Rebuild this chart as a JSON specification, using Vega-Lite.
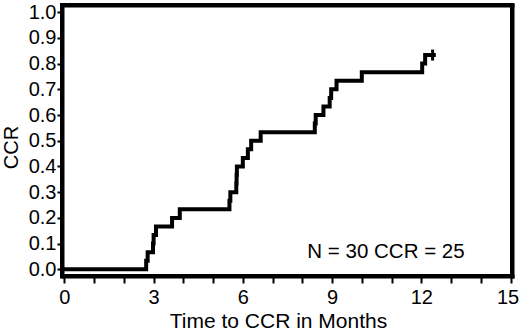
{
  "$schema": "https://vega.github.io/schema/vega-lite/v6.json",
  "autosize": "none",
  "width": 450,
  "height": 271,
  "padding": {"left": 62, "top": 5, "right": 8, "bottom": 58},
  "background": "white",
  "config": {
    "font": "Liberation Sans",
    "view": {"stroke": "black", "strokeWidth": 4}
  },
  "datasets": {
    "km": [
      {"t": 0, "ccr": 0},
      {"t": 2.75, "ccr": 0.0333},
      {"t": 2.8, "ccr": 0.0667},
      {"t": 2.98, "ccr": 0.1},
      {"t": 3.0, "ccr": 0.1333},
      {"t": 3.08, "ccr": 0.1667},
      {"t": 3.62, "ccr": 0.2},
      {"t": 3.88, "ccr": 0.2333},
      {"t": 5.55, "ccr": 0.2667},
      {"t": 5.58, "ccr": 0.3},
      {"t": 5.78, "ccr": 0.3333},
      {"t": 5.79, "ccr": 0.3667},
      {"t": 5.8, "ccr": 0.4},
      {"t": 6.0, "ccr": 0.4333},
      {"t": 6.17, "ccr": 0.4667},
      {"t": 6.28, "ccr": 0.5},
      {"t": 6.6, "ccr": 0.5333},
      {"t": 8.42, "ccr": 0.5667},
      {"t": 8.45, "ccr": 0.6},
      {"t": 8.71, "ccr": 0.6333},
      {"t": 8.92, "ccr": 0.6667},
      {"t": 8.97, "ccr": 0.7},
      {"t": 9.15, "ccr": 0.7333},
      {"t": 10.0, "ccr": 0.7667},
      {"t": 12.03, "ccr": 0.8},
      {"t": 12.13, "ccr": 0.8333},
      {"t": 12.42, "ccr": 0.8333}
    ],
    "censor": [{"t": 12.38, "ccr": 0.8333}],
    "note": [{"t": 8.17, "ccr": 0.0686, "label": "N = 30 CCR = 25"}]
  },
  "resolve": {"axis": {"x": "independent", "y": "independent"}},
  "layer": [
    {
      "data": {"name": "km"},
      "mark": {"type": "line", "interpolate": "step-after", "color": "black", "strokeWidth": 4, "strokeCap": "square"},
      "encoding": {
        "x": {
          "field": "t", "type": "quantitative",
          "scale": {"domain": [-0.08, 15.05], "nice": false, "zero": false},
          "axis": {
            "title": "Time to CCR in Months",
            "values": [0,1,2,3,4,5,6,7,8,9,10,11,12,13,14,15],
            "labelExpr": "datum.value % 3 == 0 ? datum.label : ''",
            "labelOverlap": false,
            "labelOffset": {"condition": {"test": "datum.value == 15", "value": -3}, "value": 0},
            "grid": false,
            "domain": true, "domainColor": "black", "domainWidth": 4, "domainCap": "square",
            "tickColor": "black", "tickWidth": 2, "tickSize": 7,
            "labelFontSize": 20, "labelColor": "black", "labelPadding": 4,
            "labelFlush": false,
            "titleFontSize": 21, "titleFontWeight": "normal", "titleColor": "black",
            "titlePadding": 3, "titleX": 216
          }
        },
        "y": {
          "field": "ccr", "type": "quantitative",
          "scale": {"domain": [-0.026, 1.028], "nice": false, "zero": false},
          "axis": {
            "title": "CCR",
            "values": [0,0.1,0.2,0.3,0.4,0.5,0.6,0.7,0.8,0.9,1.0],
            "format": ".1f",
            "labelOverlap": false,
            "grid": false,
            "domain": true, "domainColor": "black", "domainWidth": 4, "domainCap": "square",
            "tickColor": "black", "tickWidth": 2, "tickSize": 5,
            "labelFontSize": 20, "labelColor": "black", "labelPadding": 1,
            "labelFlush": false,
            "titleFontSize": 20, "titleFontWeight": "normal", "titleColor": "black",
            "titlePadding": 7, "titleY": 142
          }
        }
      }
    },
    {
      "data": {"name": "censor"},
      "mark": {"type": "tick", "orient": "vertical", "color": "black", "size": 11, "thickness": 3, "opacity": 1},
      "encoding": {
        "x": {
          "field": "t", "type": "quantitative",
          "axis": {"orient": "top", "title": null, "labels": false, "ticks": false, "grid": false,
                   "domain": true, "domainColor": "black", "domainWidth": 4, "domainCap": "square"}
        },
        "y": {
          "field": "ccr", "type": "quantitative",
          "axis": {"orient": "right", "title": null, "labels": false, "ticks": false, "grid": false,
                   "domain": true, "domainColor": "black", "domainWidth": 4, "domainCap": "square"}
        }
      }
    },
    {
      "data": {"name": "note"},
      "mark": {"type": "text", "align": "left", "baseline": "middle", "fontSize": 20.5, "color": "black"},
      "encoding": {
        "x": {"field": "t", "type": "quantitative", "axis": null},
        "y": {"field": "ccr", "type": "quantitative", "axis": null},
        "text": {"field": "label"}
      }
    }
  ]
}
